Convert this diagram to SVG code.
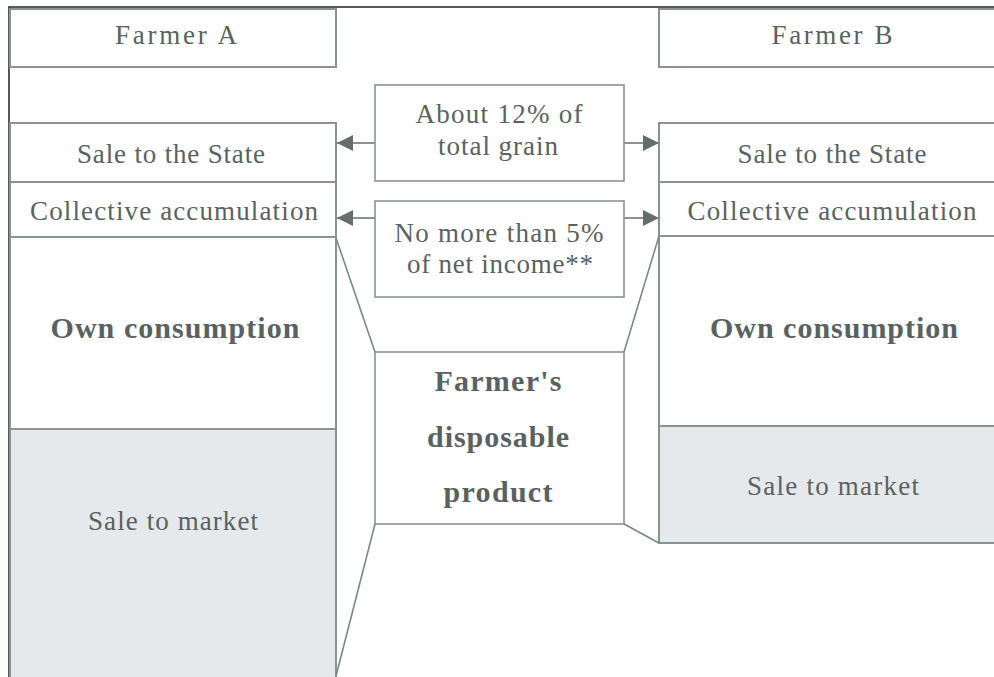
<svg xmlns="http://www.w3.org/2000/svg" width="994" height="677" viewBox="0 0 994 677">
<style>
  .col { fill: #ffffff; stroke: #8a9391; stroke-width: 2; }
  .mkt { fill: #e6e9ec; stroke: #8a9391; stroke-width: 2; }
  .mid { fill: #ffffff; stroke: #8a9391; stroke-width: 1.6; }
  .t { font-family: "Liberation Serif", "Times New Roman", "DejaVu Serif", serif; font-size: 27px; fill: #59625f; text-anchor: middle; }
  .b { font-family: "Liberation Serif", "Times New Roman", "DejaVu Serif", serif; font-size: 30px; font-weight: bold; fill: #59625f; text-anchor: middle; }
  .ln { fill: none; stroke: #7d8785; stroke-width: 1.6; }
  .ar { fill: none; stroke: #8a9391; stroke-width: 2; marker-end: url(#head); }
</style>
<defs>
  <marker id="head" viewBox="0 0 10 10" refX="10" refY="5" markerWidth="8" markerHeight="8" markerUnits="strokeWidth" orient="auto">
    <path d="M0,0 L10,5 L0,10 Z" fill="#646e6c"/>
  </marker>
</defs>
<rect x="0" y="0" width="994" height="677" fill="#ffffff"/>
<path d="M9,677 L9,7 L994,7" fill="none" stroke="#222222" stroke-width="1.5"/>

<g id="farmerA">
  <rect class="col" x="10" y="9" width="326" height="58"/>
  <text class="t" x="176" y="44" textLength="122" lengthAdjust="spacing">Farmer A</text>
</g>
<g id="saleStateA">
  <rect class="col" x="10" y="123" width="326" height="59"/>
  <text class="t" x="171" y="163" textLength="188" lengthAdjust="spacing">Sale to the State</text>
</g>
<g id="collectiveA">
  <rect class="col" x="10" y="182" width="326" height="55"/>
  <text class="t" x="174" y="220" textLength="288" lengthAdjust="spacing">Collective accumulation</text>
</g>
<g id="ownA">
  <rect class="col" x="10" y="237" width="326" height="192"/>
  <text class="b" x="175" y="338" textLength="249" lengthAdjust="spacing">Own consumption</text>
</g>
<g id="marketA">
  <rect class="mkt" x="10" y="429" width="326" height="249"/>
  <text class="t" x="173" y="530" textLength="170" lengthAdjust="spacing">Sale to market</text>
</g>

<g id="farmerB">
  <rect class="col" x="659" y="9" width="345" height="58"/>
  <text class="t" x="832" y="44" textLength="121" lengthAdjust="spacing">Farmer B</text>
</g>
<g id="saleStateB">
  <rect class="col" x="659" y="123" width="345" height="59"/>
  <text class="t" x="832" y="163" textLength="189" lengthAdjust="spacing">Sale to the State</text>
</g>
<g id="collectiveB">
  <rect class="col" x="659" y="182" width="345" height="54"/>
  <text class="t" x="832" y="220" textLength="289" lengthAdjust="spacing">Collective accumulation</text>
</g>
<g id="ownB">
  <rect class="col" x="659" y="236" width="345" height="190"/>
  <text class="b" x="834" y="338" textLength="248" lengthAdjust="spacing">Own consumption</text>
</g>
<g id="marketB">
  <rect class="mkt" x="659" y="426" width="345" height="117"/>
  <text class="t" x="833" y="495" textLength="172" lengthAdjust="spacing">Sale to market</text>
</g>

<g id="stateShare">
  <rect class="mid" x="375" y="85" width="249" height="96"/>
  <text class="t" x="499" y="123" textLength="167" lengthAdjust="spacing">About 12% of</text>
  <text class="t" x="498" y="155" textLength="120" lengthAdjust="spacing">total grain</text>
</g>
<g id="collectiveShare">
  <rect class="mid" x="375" y="201" width="249" height="96"/>
  <text class="t" x="499" y="242" textLength="209" lengthAdjust="spacing">No more than 5%</text>
  <text class="t" x="500" y="273" textLength="186" lengthAdjust="spacing">of net income**</text>
</g>
<g id="disposable">
  <rect class="mid" x="375" y="352" width="249" height="172"/>
  <text class="b" x="498" y="391" textLength="127" lengthAdjust="spacing">Farmer's</text>
  <text class="b" x="498" y="447" textLength="142" lengthAdjust="spacing">disposable</text>
  <text class="b" x="498" y="502" textLength="109" lengthAdjust="spacing">product</text>
</g>

<g id="connectors">
  <line class="ar" x1="375" y1="143" x2="337" y2="143"/>
  <line class="ar" x1="624" y1="143" x2="659" y2="143"/>
  <line class="ar" x1="375" y1="218" x2="337" y2="218"/>
  <line class="ar" x1="624" y1="218" x2="659" y2="218"/>
  <line class="ln" x1="336" y1="238" x2="375" y2="352"/>
  <line class="ln" x1="375" y1="524" x2="336" y2="676"/>
  <line class="ln" x1="659" y1="236" x2="624" y2="352"/>
  <line class="ln" x1="624" y1="524" x2="659" y2="543"/>
</g>
</svg>
